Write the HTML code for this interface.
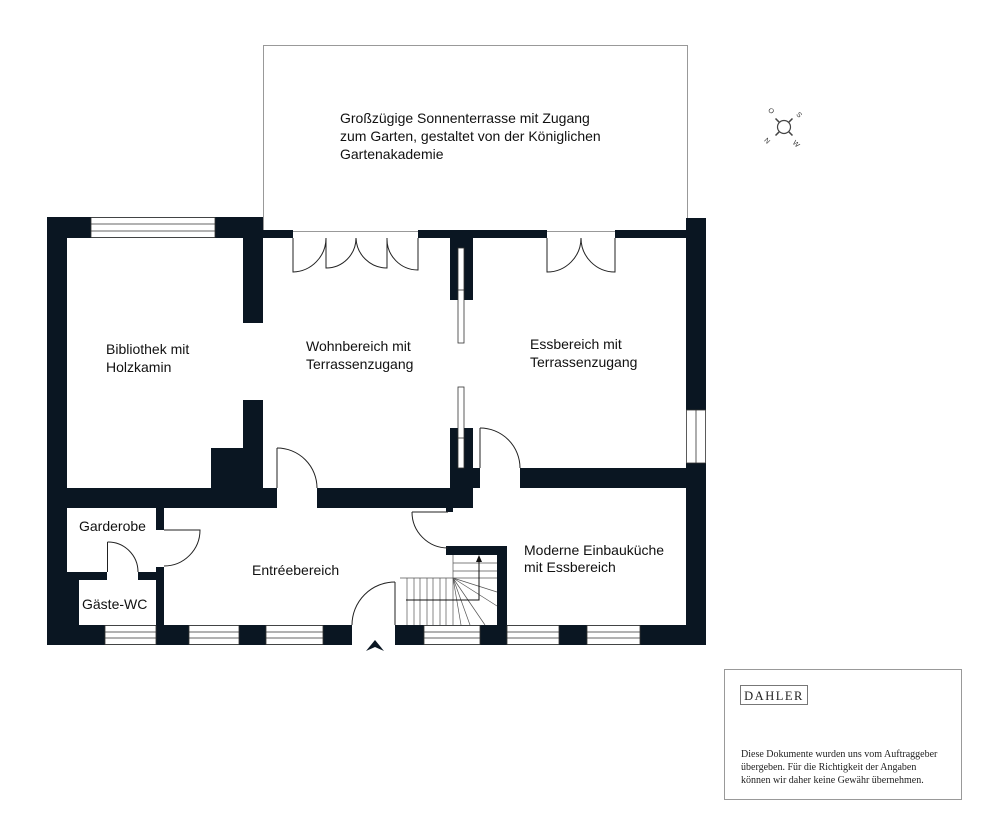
<!DOCTYPE html>
<html><head><meta charset="utf-8"><style>
html,body{margin:0;padding:0;background:#fff;width:1000px;height:838px;overflow:hidden}
svg{display:block}
.l{font-family:"Liberation Sans",sans-serif;font-size:14px;fill:#111}
.s{font-family:"Liberation Serif",serif;fill:#222}
</style></head><body>
<svg width="1000" height="838" viewBox="0 0 1000 838" xmlns="http://www.w3.org/2000/svg">
<rect x="263.5" y="45.5" width="424" height="186" fill="none" stroke="#999" stroke-width="1"/>
<g fill="#0a1622">
<rect x="47" y="217" width="20" height="428"/>
<rect x="47" y="572" width="32" height="73"/>
<rect x="47" y="217" width="216" height="21"/>
<rect x="243" y="217" width="20" height="106"/>
<rect x="243" y="400" width="20" height="108"/>
<rect x="211" y="448" width="52" height="60"/>
<rect x="47" y="488" width="230" height="20"/>
<rect x="317" y="488" width="156" height="20"/>
<rect x="446" y="488" width="7" height="24"/>
<rect x="263" y="230" width="30" height="8"/>
<rect x="418" y="230" width="129" height="8"/>
<rect x="615" y="230" width="71" height="8"/>
<rect x="450" y="238" width="23" height="62"/>
<rect x="450" y="428" width="23" height="70"/>
<rect x="450" y="468" width="30" height="20"/>
<rect x="686" y="218" width="20" height="192"/>
<rect x="686" y="463" width="20" height="182"/>
<rect x="520" y="468" width="186" height="20"/>
<rect x="156" y="508" width="8" height="22"/>
<rect x="156" y="567" width="8" height="78"/>
<rect x="67" y="572" width="40" height="8"/>
<rect x="138" y="572" width="26" height="8"/>
<rect x="446" y="546" width="61" height="9"/>
<rect x="497" y="546" width="10" height="80"/>
<rect x="47" y="625" width="305" height="20"/>
<rect x="395" y="625" width="311" height="20"/>
<polygon points="366,651 375,640 384,651 375,647"/>
</g>
<g fill="#fff" stroke="#333" stroke-width="0.8">
<rect x="91" y="217.5" width="124" height="20"/>
<line x1="91" y1="224" x2="215" y2="224"/><line x1="91" y1="231" x2="215" y2="231"/>
<rect x="686.5" y="410" width="19" height="53"/>
<line x1="696" y1="410" x2="696" y2="463"/>
<rect x="458" y="248" width="6" height="95"/><line x1="458" y1="290" x2="464" y2="290"/>
<rect x="458" y="387" width="6" height="81"/><line x1="458" y1="438" x2="464" y2="438"/>
</g>
<g fill="#fff" stroke="#333" stroke-width="0.8">
<rect x="105" y="625.5" width="51" height="19"/><line x1="105" y1="632" x2="156" y2="632"/><line x1="105" y1="638" x2="156" y2="638"/>
<rect x="189" y="625.5" width="50" height="19"/><line x1="189" y1="632" x2="239" y2="632"/><line x1="189" y1="638" x2="239" y2="638"/>
<rect x="266" y="625.5" width="57" height="19"/><line x1="266" y1="632" x2="323" y2="632"/><line x1="266" y1="638" x2="323" y2="638"/>
<rect x="424" y="625.5" width="56" height="19"/><line x1="424" y1="632" x2="480" y2="632"/><line x1="424" y1="638" x2="480" y2="638"/>
<rect x="507" y="625.5" width="52" height="19"/><line x1="507" y1="632" x2="559" y2="632"/><line x1="507" y1="638" x2="559" y2="638"/>
<rect x="587" y="625.5" width="53" height="19"/><line x1="587" y1="632" x2="640" y2="632"/><line x1="587" y1="638" x2="640" y2="638"/>
</g>
<g fill="none" stroke="#222" stroke-width="1">
<path d="M293 238V272A34 34 0 0 0 326 238"/>
<path d="M326 238V268A30 30 0 0 0 356 238"/>
<path d="M387 238V268A31 31 0 0 1 356 238"/>
<path d="M418 238V270A31 31 0 0 1 387 238"/>
<path d="M547 238V272A34 34 0 0 0 581 238"/>
<path d="M615 238V272A34 34 0 0 1 581 238"/>
<path d="M277 448V488"/><path d="M277 448A40 40 0 0 1 317 488"/>
<path d="M480 428V468"/><path d="M480 428A40 40 0 0 1 520 468"/>
<path d="M164 530H200A36 36 0 0 1 164 566"/>
<path d="M107.5 542V572"/><path d="M107.5 542A30 30 0 0 1 138 572"/>
<path d="M412 512H448"/><path d="M412 512A36 36 0 0 0 448 548"/>
<path d="M395 582V625"/><path d="M395 582A43 43 0 0 0 352 625"/>
</g>
<g fill="none" stroke="#555" stroke-width="0.7">
<path d="M400 578H453V625"/>
<path d="M407 578V625M414 578V625M420 578V625M427 578V625M433 578V625M440 578V625M446 578V625"/>
<path d="M453 555V578M453 563H497M453 571H497M453 578H497"/>
<path d="M453 578L497 592M453 578L497 606M453 578L485 625M453 578L470 625M453 578L461 625"/>
</g>
<g stroke="#111" stroke-width="1" fill="none"><path d="M406 600H479V560"/></g>
<polygon points="479,555 476,562 482,562" fill="#111"/>
<text class="l"><tspan x="340" y="123">Großzügige Sonnenterrasse mit Zugang</tspan><tspan x="340" y="141">zum Garten, gestaltet von der Königlichen</tspan><tspan x="340" y="159">Gartenakademie</tspan></text>
<text class="l"><tspan x="106" y="354">Bibliothek mit</tspan><tspan x="106" y="372">Holzkamin</tspan></text>
<text class="l"><tspan x="306" y="351">Wohnbereich mit</tspan><tspan x="306" y="369">Terrassenzugang</tspan></text>
<text class="l"><tspan x="530" y="349">Essbereich mit</tspan><tspan x="530" y="367">Terrassenzugang</tspan></text>
<text class="l" x="79" y="531">Garderobe</text>
<text class="l" x="82" y="609">Gäste-WC</text>
<text class="l" x="252" y="575">Entréebereich</text>
<text class="l"><tspan x="524" y="555">Moderne Einbauküche</tspan><tspan x="524" y="572">mit Essbereich</tspan></text>
<g transform="translate(784,127) rotate(45)" stroke="#444" fill="none">
<circle r="6.5" stroke-width="1.2"/>
<path d="M0 -7V-12M0 7V12M-7 0H-12M7 0H12" stroke-width="1.5"/>
</g>
<g font-family="Liberation Sans,sans-serif" font-size="7" fill="#333" text-anchor="middle">
<text x="771" y="113" transform="rotate(45 771 111)">O</text>
<text x="799" y="117" transform="rotate(45 799 115)">S</text>
<text x="767" y="143" transform="rotate(45 767 141)">N</text>
<text x="796" y="146" transform="rotate(45 796 144)">W</text>
</g>
<rect x="724.5" y="669.5" width="237" height="130" fill="#fff" stroke="#999"/>
<rect x="740.5" y="685.5" width="67" height="19" fill="#fff" stroke="#777"/>
<text class="s" x="774" y="700" font-size="12.5" text-anchor="middle" letter-spacing="1.5">DAHLER</text>
<text class="s" font-size="10"><tspan x="741" y="757">Diese Dokumente wurden uns vom Auftraggeber</tspan><tspan x="741" y="770">übergeben. Für die Richtigkeit der Angaben</tspan><tspan x="741" y="783">können wir daher keine Gewähr übernehmen.</tspan></text>
</svg>
</body></html>
